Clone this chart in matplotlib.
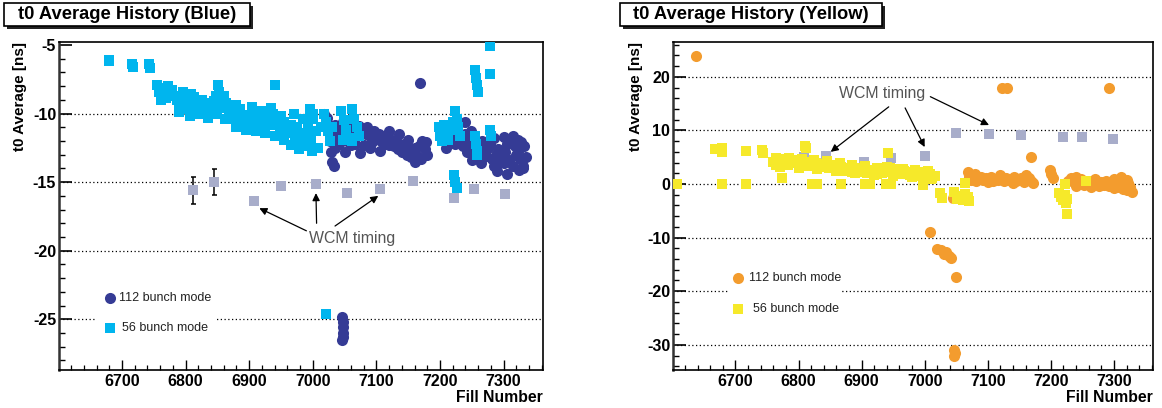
import matplotlib
matplotlib.use("Agg")
import matplotlib.pyplot as plt
from matplotlib.patches import Rectangle

plt.rcParams['font.family'] = ['Liberation Sans', 'DejaVu Sans']
plt.rcParams['axes.unicode_minus'] = False

# ---- Blue ring (left) ----
blue112_fill = [7018, 7022, 7025, 7027, 7029, 7031, 7033, 7035, 7037, 7040, 7042,
                7045, 7048, 7051, 7054, 7057, 7060, 7063, 7066, 7070, 7073, 7076, 7080,
                7083, 7086, 7090, 7093, 7097, 7100, 7104, 7107, 7110, 7114, 7117, 7120,
                7124, 7127, 7130, 7134, 7137, 7141, 7144, 7148, 7151, 7155, 7158, 7161,
                7164, 7167, 7169,
                7050, 7060, 7075, 7090, 7105, 7120, 7135, 7150, 7160, 7170, 7172, 7035,
                7176, 7180, 7178,
                7200, 7203, 7207, 7211, 7215, 7219, 7223, 7227, 7230, 7234, 7237, 7240,
                7243, 7246, 7249, 7252, 7256, 7259, 7262, 7266, 7269, 7272, 7275, 7279,
                7282, 7285, 7288, 7291, 7294, 7297, 7300, 7303, 7306, 7309, 7312, 7315,
                7318, 7320, 7322, 7324, 7326, 7328, 7330, 7331,
                7210, 7240, 7250, 7265, 7290, 7305, 7315, 7325, 7332, 7335, 7300, 7285,
                7046, 7047, 7048, 7047, 7048, 7046]
blue112_t0 = [-10.0, -10.3, -11.2, -12.0, -12.8, -13.5, -13.8, -12.5, -11.8, -11.3, -12.2,
              -11.0, -10.6, -11.5, -12.0, -11.2, -10.8, -11.6, -12.2, -11.4, -10.9, -11.2, -12.3,
              -11.5, -11.0, -11.6, -12.1, -11.3, -11.8, -11.5, -12.0, -11.6, -12.2, -11.8, -12.3,
              -11.9, -12.4, -12.0, -12.6, -12.2, -12.8, -12.5, -13.0, -12.6, -13.2, -12.8, -12.5,
              -13.1, -12.4, -7.75,
              -12.8, -12.3, -12.9, -12.5, -12.7, -11.3, -11.5, -11.9, -13.5, -13.3, -12.0, -10.8,
              -12.6, -13.0, -12.1,
              -11.2, -11.8, -10.8, -11.5, -11.0, -11.6, -12.2, -11.0, -10.7, -11.8, -12.4, -11.5,
              -12.8, -12.1, -11.3, -12.6, -12.9, -13.0, -12.4, -12.0, -12.7, -13.1, -12.5, -12.2,
              -13.3, -13.8, -13.0, -12.6, -13.5, -12.9, -13.6, -12.8, -12.2, -13.4, -12.0, -11.6,
              -12.4, -13.0, -11.9, -12.6, -13.3, -12.1, -13.8, -14.0,
              -12.5, -10.6, -13.4, -13.6, -14.2, -14.4, -13.8, -14.1, -12.4, -13.2, -11.7, -11.8,
              -24.8, -25.2, -25.6, -26.0, -26.3, -26.5]

blue56_fill = [6679, 6680, 6716, 6717, 6742, 6744,
               6755, 6758, 6761, 6765, 6768, 6772, 6775, 6778,
               6784, 6787, 6790, 6793, 6796, 6799, 6802, 6805, 6808, 6811, 6814, 6817, 6807,
               6823, 6826, 6829, 6833, 6837, 6840, 6844, 6848, 6851, 6853, 6856, 6860, 6864, 6868,
               6872, 6875, 6878, 6882, 6886, 6890, 6893, 6897, 6901, 6904, 6908, 6912, 6915,
               6919, 6922, 6926, 6930, 6934, 6937, 6941, 6944, 6948, 6951, 6955, 6958, 6962,
               6965, 6968, 6972, 6975, 6979, 6983, 6986, 6990, 6993, 6997, 7001, 7005, 7009,
               7013, 7018, 7021, 7024, 7027, 7030, 7045, 7049, 7053, 7057, 7061, 7065, 7069, 7073,
               6762, 6770, 6790, 6800, 6820, 6835, 6850, 6862, 6880, 6895, 6910, 6925, 6940,
               6955, 6965, 6978, 6988, 6999, 6970, 6985, 6995, 7000, 6860, 6880, 6905, 6920,
               6935, 6950, 7047, 7062,
               7198, 7200, 7203, 7206, 7210, 7213, 7216, 7220, 7224, 7226, 7229, 7232,
               7222, 7224, 7226, 7255, 7257, 7259, 7260, 7279, 7279, 7279, 7280,
               7255, 7257, 7259, 7258, 7021]
blue56_t0 = [-6.1, -6.2, -6.4, -6.6, -6.4, -6.7,
             -7.9, -8.4, -8.6, -8.1, -8.5, -8.0, -8.6, -8.3,
             -8.7, -9.0, -9.4, -9.2, -8.4, -8.9, -9.5, -9.0, -8.6, -9.3, -8.8, -9.6, -10.2,
             -9.4, -9.0, -9.6, -9.2, -9.8, -9.3, -9.1, -8.7, -7.9, -8.4, -9.4, -9.6, -9.2, -9.8,
             -10.0, -10.4, -10.2, -10.5, -9.7, -10.1, -10.6, -10.3, -10.8, -9.9, -10.2, -10.7, -10.4,
             -10.9, -10.1, -10.6, -10.3, -10.8, -10.0, -7.9, -10.5, -10.9, -11.2, -10.6, -11.0, -11.4,
             -10.8, -11.2, -11.6, -11.0, -11.9, -11.4, -12.2, -11.6, -11.1, -12.0, -10.4, -11.3, -12.5,
             -11.0, -10.0, -10.6, -11.3, -12.0, -11.0, -9.8, -10.5, -11.2, -11.8, -9.7, -10.4, -11.0, -11.6,
             -9.0, -8.9, -9.9, -9.7, -10.0, -10.3, -10.0, -10.4, -11.0, -11.2, -11.3, -11.4, -11.6,
             -11.9, -12.3, -12.6, -12.4, -12.7, -10.0, -10.4, -9.7, -10.0, -8.7, -9.4, -9.5, -9.8,
             -9.6, -10.2, -11.9, -12.0,
             -11.0, -11.6, -12.0, -10.8, -11.4, -11.9, -11.2, -10.6, -9.8, -10.4, -11.0, -11.6,
             -14.5, -15.0, -15.4, -6.8, -7.4, -7.9, -8.4, -5.1, -7.1, -11.2, -11.6,
             -11.6, -12.2, -12.7, -13.0, -24.6]

blue_wcm_fill = [6811, 6845, 6907, 6950, 7005, 7054, 7105, 7157, 7222, 7254, 7303]
blue_wcm_t0 = [-15.6, -15.0, -16.4, -15.3, -15.15, -15.8, -15.5, -14.9, -16.15, -15.5, -15.9]
blue_wcm_err = [1.0, 0.95, 0, 0, 0, 0, 0, 0, 0, 0, 0]

# ---- Yellow ring (right) ----
yel112_fill = [6637, 7122, 7130, 7293, 7169, 7008,
               7020, 7026, 7030, 7034, 7038, 7042, 7049, 7047, 7048, 7047, 7045,
               7068, 7070, 7073, 7077, 7081, 7085, 7089, 7093, 7097, 7101, 7105, 7109, 7113,
               7117, 7121, 7125, 7129, 7133, 7137, 7141, 7145, 7149, 7153, 7157, 7161, 7165,
               7169, 7172, 7198, 7201, 7203,
               7080, 7100, 7120, 7140, 7160,
               7228, 7232, 7236, 7240, 7244, 7248, 7252, 7256, 7260, 7264, 7268, 7272, 7276,
               7280, 7284, 7288, 7292, 7296, 7300, 7304, 7308, 7311, 7314, 7317, 7320, 7322,
               7325, 7328, 7240, 7270, 7300, 7320]
yel112_t0 = [23.8, 18.0, 18.0, 18.0, 5.1, -8.9,
             -12.1, -12.4, -13.0, -12.6, -13.5, -13.8, -17.3, -30.9, -31.5, -32.0, -2.6,
             2.2, 1.4, 0.8, 1.2, 0.6, 1.0, 1.3, 0.7, 1.1, 0.9, 1.4, 0.6, 1.0,
             0.8, 1.3, 0.5, 1.1, 0.7, 1.0, 1.3, 0.6, 0.9, 1.2, 0.4, 0.8, 1.1,
             0.5, 0.2, 2.6, 1.8, 1.2,
             1.8, 0.3, 1.7, 0.2, 1.6,
             0.6, 1.1, 0.3, 1.3, 0.5, 0.9, -0.2, 0.4, 0.0, -0.6, 0.5, 0.1, -0.3,
             0.4, -0.2, 0.6, -0.4, 0.2, -0.8, 0.3, -0.5, 1.3, -0.9, 0.4, -1.2, 0.2,
             -0.6, -1.5, -0.4, 1.0, 0.9, 0.8]

yel56_fill = [6607, 6667, 6678, 6679, 6678, 6717, 6717, 6742, 6743,
              6760, 6764, 6768, 6772, 6776, 6780, 6784, 6788, 6792, 6796, 6800, 6804, 6808,
              6812, 6816, 6820, 6824, 6828, 6832, 6836, 6840, 6844, 6848, 6852, 6856, 6860,
              6864, 6868, 6872, 6876, 6880, 6884, 6888, 6892, 6896, 6900, 6904, 6908, 6912,
              6916, 6920, 6924, 6928, 6932, 6936, 6940, 6942, 6944, 6948, 6952, 6956, 6960,
              6964, 6968, 6972, 6976, 6980, 6984, 6988, 6992, 6996, 7000, 7004, 7008, 7012, 7016,
              6765, 6785, 6805, 6825, 6845, 6865, 6885, 6905, 6925, 6945, 6965, 6985, 7005,
              6770, 6800, 6830, 6860, 6890, 6920, 6950, 6980, 7010,
              6811, 6812, 6774, 6821, 6829, 6868, 6906, 6913, 6939, 6947, 6997,
              7025, 7027, 7047, 7052, 7056, 7060, 7064, 7068, 7070, 7064,
              7213, 7216, 7219, 7222, 7224, 7226, 7226, 7223, 7256]
yel56_t0 = [0.0, 6.6, 6.8, 5.9, 0.0, 6.2, 0.0, 6.4, 5.8,
            4.2, 3.6, 4.4, 3.8, 4.6, 4.0, 3.5, 4.3, 3.9, 4.5, 3.4, 4.1, 3.7,
            4.2, 3.3, 3.9, 3.5, 4.0, 3.1, 3.6, 3.2, 3.8, 2.9, 3.4, 3.0, 3.5,
            2.7, 3.1, 2.5, 3.0, 2.6, 2.2, 2.8, 2.4, 2.9, 2.3, 2.7, 2.1, 2.6,
            2.0, 2.4, 1.9, 2.5, 2.1, 2.7, 3.2, 5.8, 2.2, 2.6, 1.9, 2.3, 2.8,
            1.8, 2.4, 2.0, 1.7, 2.2, 1.9, 1.5, 2.3, 1.6, 2.1, 1.4, 1.8, 1.2, 1.5,
            4.9, 4.8, 4.7, 4.4, 4.3, 3.9, 3.6, 3.3, 3.0, 3.0, 2.8, 2.6, 2.4,
            3.2, 3.0, 2.8, 2.5, 2.0, 1.6, 1.5, 1.3, 1.0,
            7.1, 6.7, 1.2, 0.0, 0.0, 0.0, 0.0, 0.0, 0.0, 0.0, -0.2,
            -1.7, -2.6, -1.5, -2.8, -2.2, -3.0, -1.8, -2.5, -3.2, 0.2,
            -1.6, -2.4, -3.0, -2.0, -3.5, -2.8, -5.6, 0.0, 0.5]

yel_wcm_fill = [6808, 6843, 6904, 6947, 7001, 7050, 7102, 7152, 7219, 7249, 7298]
yel_wcm_t0 = [5.0, 5.3, 4.1, 4.8, 5.3, 9.5, 9.4, 9.2, 8.8, 8.8, 8.4]

NAVY = '#353b95'
CYAN = '#00b5ee'
GREY = '#a8adca'
ORANGE = '#f39c2e'
YELLOW = '#f6e92a'

W, H = 1162, 408
fig = plt.figure(figsize=(W / 100, H / 100), dpi=100)


def px_box(x0, x1, y0, y1):
    # pixel box (top-left origin) -> figure fraction rect
    return [x0 / W, 1 - y1 / H, (x1 - x0) / W, (y1 - y0) / H]


def title_box(x0, x1, label):
    y0, y1 = 3, 26
    sh = px_box(x0 + 3, x1 + 3, y0 + 3, y1 + 3)
    bx = px_box(x0, x1, y0, y1)
    fig.add_artist(Rectangle(sh[:2], sh[2], sh[3], transform=fig.transFigure,
                             fc='#222222', ec='none'))
    fig.add_artist(Rectangle(bx[:2], bx[2], bx[3], transform=fig.transFigure,
                             fc='white', ec='black', lw=1.2))
    fig.text((x0 + x1) / 2 / W, 1 - (y0 + y1) / 2 / H, label, ha='center', va='center',
             fontsize=13.2, fontweight='bold')


def style_axes(ax, ylim, major, minor, grid):
    ax.set_xlim(6601, 7362)
    ax.set_ylim(*ylim)
    ax.set_xticks(range(6700, 7301, 100))
    ax.set_xticks(range(6620, 7361, 20), minor=True)
    ax.set_yticks(major)
    ax.set_yticks(minor, minor=True)
    ax.tick_params(axis='x', which='major', direction='in', length=7, width=1, pad=3,
                   labelsize=11.5, top=False)
    ax.tick_params(axis='x', which='minor', direction='in', length=3.6, width=0.9, top=False)
    ax.tick_params(axis='y', which='major', direction='in', length=9, width=1.2, pad=2,
                   labelsize=11.5, right=False)
    ax.tick_params(axis='y', which='minor', direction='in', length=4.5, width=1, right=False)
    for lbl in ax.get_xticklabels() + ax.get_yticklabels():
        lbl.set_fontweight('bold')
    for s in ax.spines.values():
        s.set_linewidth(1.2)
    ax.spines['left'].set_linewidth(1.8)
    ax.spines['left'].set_color('#333333')
    for g in grid:
        ax.axhline(g, color='black', lw=0.9, ls=(0, (1, 2)), zorder=0.5)
    ax.text(1.0, -0.085, 'Fill Number', transform=ax.transAxes, ha='right', va='center',
            fontsize=11.3, fontweight='bold')


def ylabel(ax, x):
    ax.text(x, 1.0, 't0 Average [ns]', transform=ax.transAxes, rotation=90,
            ha='center', va='top', fontsize=11, fontweight='bold')


def legend_box(ax, x0, x1, y0, y1, ymark, xmark, xtext, c1, c2):
    ax.add_patch(Rectangle((x0, y0), x1 - x0, y1 - y0, transform=ax.transAxes,
                           fc='white', ec='none', zorder=1))
    ax.plot([xmark], [ymark[0]], 'o', ms=8, mew=0, color=c1, transform=ax.transAxes, zorder=3)
    ax.plot([xmark], [ymark[1]], 's', ms=7.2, mew=0, color=c2, transform=ax.transAxes, zorder=3)
    ax.text(xtext[0], ymark[0], '112 bunch mode', transform=ax.transAxes, va='center',
            fontsize=9, color='#222222', zorder=3)
    ax.text(xtext[1], ymark[1], '56 bunch mode', transform=ax.transAxes, va='center',
            fontsize=9, color='#222222', zorder=3)


def wcm(ax, text_xy, starts, ends):
    ax.text(*text_xy, 'WCM timing', ha='center', va='center', fontsize=11.4, color='#555555')
    for s, e in zip(starts, ends):
        ax.annotate('', xy=e, xytext=s,
                    arrowprops=dict(arrowstyle='-|>', lw=0.9, color='black',
                                    mutation_scale=11, shrinkA=0, shrinkB=0))


# left panel
ax1 = fig.add_axes(px_box(59, 543, 42, 370))
style_axes(ax1, (-28.7, -4.78), range(-25, -4, 5), range(-28, -4, 1), [-10, -15, -20, -25])
ylabel(ax1, -0.08)
ax1.errorbar(blue_wcm_fill, blue_wcm_t0, yerr=blue_wcm_err, fmt='none', ecolor='black',
             elinewidth=1.1, capsize=1.8, capthick=1.1, zorder=2)
ax1.plot(blue_wcm_fill, blue_wcm_t0, 's', ms=6.8, mew=0, color=GREY, zorder=3)
ax1.plot(blue112_fill, blue112_t0, 'o', ms=8, mew=0, color=NAVY, zorder=3)
ax1.plot(blue56_fill, blue56_t0, 's', ms=7.2, mew=0, color=CYAN, zorder=4)
legend_box(ax1, 0.078, 0.324, 0.09, 0.26, (0.2195, 0.128), 0.105, (0.124, 0.13), NAVY, CYAN)
wcm(ax1, (7062, -19.1),
    [(6990, -18.55), (7006, -18.0), (7035, -18.2)],
    [(6916, -16.9), (7005, -15.8), (7103, -16.0)])

# right panel
ax2 = fig.add_axes(px_box(673, 1153, 42, 370))
style_axes(ax2, (-34.7, 26.5), range(-30, 21, 10), range(-34, 27, 2), [20, 10, 0, -10, -20, -30])
ylabel(ax2, -0.077)
ax2.plot(yel_wcm_fill, yel_wcm_t0, 's', ms=6.8, mew=0, color=GREY, zorder=2)
ax2.plot(yel112_fill, yel112_t0, 'o', ms=8, mew=0, color=ORANGE, zorder=3)
ax2.plot(yel56_fill, yel56_t0, 's', ms=7.2, mew=0, color=YELLOW, zorder=4)
legend_box(ax2, 0.115, 0.348, 0.137, 0.33, (0.28, 0.186), 0.136, (0.158, 0.167), ORANGE, YELLOW)
wcm(ax2, (6932, 16.8),
    [(6943, 14.4), (6969, 14.2), (7009, 16.3)],
    [(6851, 6.0), (7000, 6.9), (7102, 11.0)])

title_box(4, 250, 't0 Average History (Blue)')
title_box(620, 882, 't0 Average History (Yellow)')

fig.savefig('out.png', dpi=100)
